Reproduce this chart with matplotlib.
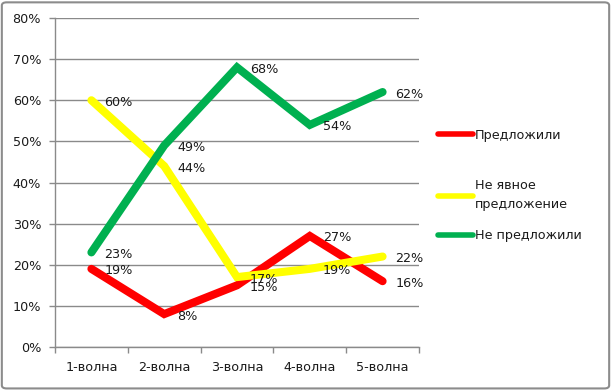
import matplotlib
matplotlib.use("Agg")
import matplotlib.pyplot as plt
from matplotlib.patches import FancyBboxPatch

# data
waves = ["1-волна", "2-волна", "3-волна", "4-волна", "5-волна"]
offered = [19, 8, 15, 27, 16]
implicit = [60, 44, 17, 19, 22]
not_offered = [23, 49, 68, 54, 62]
series_names = ["Предложили", "Не явное\nпредложение", "Не предложили"]
series_colors = ["#FF0000", "#FFFF00", "#00B050"]
y_ticks = [0, 10, 20, 30, 40, 50, 60, 70, 80]

plt.rcParams['font.family'] = ['DejaVu Sans']
fs = 9.2
text_col = "#1a1a1a"
grid_col = "#8a8a8a"

fig = plt.figure(figsize=(6.11, 3.9), dpi=100)
ax = fig.add_axes([55 / 611, 43 / 390, 364 / 611, 329 / 390])

x = list(range(len(waves)))
handles = []
for vals, name, col in zip([offered, implicit, not_offered], series_names, series_colors):
    ln, = ax.plot(x, vals, color=col, lw=5.8, solid_capstyle='round',
                  solid_joinstyle='miter', label=name, zorder=3)
    handles.append(ln)
    for xi, v in zip(x, vals):
        ax.annotate(f"{v}%", (xi, v), xytext=(13, -2), textcoords='offset pixels',
                    ha='left', va='center', fontsize=fs, color=text_col, zorder=4)

ax.set_xlim(-0.5, len(waves) - 0.5)
ax.set_ylim(0, 80)
ax.set_yticks(y_ticks)
ax.set_yticklabels([f"{t}%" for t in y_ticks])
ax.yaxis.grid(True, color=grid_col, lw=1)
ax.set_axisbelow(True)

# category boundaries as major ticks, names on minor ticks
ax.set_xticks([i - 0.5 for i in range(len(waves) + 1)])
ax.set_xticklabels([])
ax.set_xticks(x, minor=True)
ax.set_xticklabels(waves, minor=True)
ax.tick_params(axis='x', which='major', length=4, color=grid_col, width=1)
ax.tick_params(axis='x', which='minor', length=0, pad=10, labelsize=fs, labelcolor=text_col)
ax.tick_params(axis='y', length=4, color=grid_col, width=1, pad=6, labelsize=fs, labelcolor=text_col)

for s in ['top', 'right']:
    ax.spines[s].set_visible(False)
for s in ['left', 'bottom']:
    ax.spines[s].set_color(grid_col)
    ax.spines[s].set_linewidth(1)

# legend entries placed one by one like Excel does
legend_y = [135, 195, 236]
for h, yy in zip(handles, legend_y):
    lg = fig.legend([h], [h.get_label()], loc='center left',
                    bbox_to_anchor=(438 / 611, 1 - yy / 390), frameon=False,
                    handlelength=2.75, handletextpad=0.12, fontsize=fs,
                    borderaxespad=0, borderpad=0, labelcolor=text_col)
    lg.get_lines()[0].set_linewidth(4)
    lg.get_texts()[0].set_linespacing(1.55)

border = FancyBboxPatch((0.003, 0.004), 0.994, 0.99, boxstyle="round,pad=0,rounding_size=0.008",
                        transform=fig.transFigure, fill=False, edgecolor="#8c8c8c", lw=1.5)
fig.patches.append(border)

fig.savefig("out.png", dpi=100)
